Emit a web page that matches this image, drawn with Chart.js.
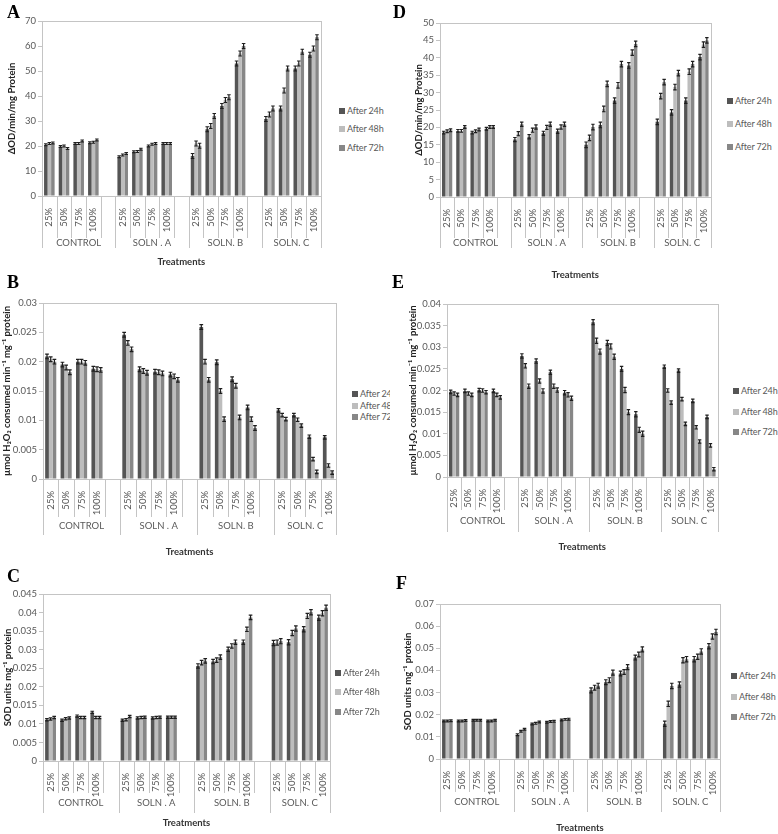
<!DOCTYPE html>
<html>
<head>
<meta charset="utf-8">
<script src="https://cdn.jsdelivr.net/npm/chart.js"></script>
<style>
	body { margin: 0; background: #fff; width: 778px; height: 834px; position: relative; overflow: hidden; font-family: Lato, sans-serif; }
	canvas { position: absolute; }
	.letter { position: absolute; font: bold 18px "Liberation Serif", serif; color: #000; line-height: 18px; }
	.legend { position: absolute; font-size: 9px; letter-spacing: -0.15px; color: #595959; white-space: nowrap; line-height: 12px; }
	.legend span { display: inline-block; width: 6px; height: 6px; margin-right: 2px; vertical-align: 0px; }
	.clip { position: absolute; left: 0; top: 0; width: 390px; height: 834px; overflow: hidden; }
</style>
</head>
<body>
<script>
// x categories: four concentrations per treatment, blank slot between treatments
var concLabels = ['25%', '50%', '75%', '100%', '', '25%', '50%', '75%', '100%', '', '25%', '50%', '75%', '100%', '', '25%', '50%', '75%', '100%'];
var groupLabels = ['CONTROL', 'SOLN . A', 'SOLN. B', 'SOLN. C'];
var seriesNames = ['After 24h', 'After 48h', 'After 72h'];
var seriesColors = ['#555555', '#bdbdbd', '#878787'];

// A - ΔOD/min/mg protein
var A_24 = [20.5, 19.8, 21, 21.3, null, 15.7, 17.7, 20, 21, null, 16, 26.7, 36, 53, null, 30.8, 35, 51, 56.5];
var A_48 = [21, 20, 21, 21.5, null, 16.4, 17.8, 20.7, 21, null, 21, 28, 38.4, 57, null, 32.6, 42.2, 53, 59];
var A_72 = [21.2, 19, 22, 22.4, null, 17, 18.7, 21, 21, null, 20.1, 32, 39.5, 60, null, 35, 51, 57.7, 63.5];
var A_err = [0.4, 0.4, 1.0, 1.0];

// D - ΔOD/min/mg protein
var D_24 = [18.5, 19, 18.5, 19.6, null, 16.5, 17.3, 18.3, 18.9, null, 15, 20.7, 27.7, 37.8, null, 21.6, 24.3, 27.7, 40.2];
var D_48 = [18.9, 19, 18.9, 20.1, null, 18.2, 19.2, 20, 20.1, null, 17, 25.3, 32.1, 41.5, null, 29, 31.6, 36, 43.8];
var D_72 = [19.2, 20.1, 19.4, 20.1, null, 20.9, 20.1, 20.9, 20.9, null, 20.1, 32.5, 38.2, 44, null, 33, 35.6, 38.2, 45];
var D_err = [0.4, 0.6, 0.8, 0.8];

// B - µmol H2O2 consumed
var B_24 = [0.0209, 0.0195, 0.02, 0.0188, null, 0.0246, 0.0187, 0.0183, 0.0178, null, 0.0259, 0.0199, 0.017, 0.0122, null, 0.0117, 0.0109, 0.0072, 0.0071];
var B_48 = [0.0204, 0.019, 0.02, 0.0187, null, 0.0232, 0.0184, 0.0182, 0.0175, null, 0.02, 0.015, 0.0159, 0.0102, null, 0.0109, 0.0101, 0.0034, 0.0023];
var B_72 = [0.02, 0.0182, 0.0198, 0.0186, null, 0.0221, 0.0181, 0.018, 0.0169, null, 0.0169, 0.0102, 0.0105, 0.0087, null, 0.0102, 0.0091, 0.0012, 0.0011];
var B_err = [0.0004, 0.0004, 0.0004, 0.0003];

// E - µmol H2O2 consumed
var E_24 = [0.0197, 0.0199, 0.0201, 0.0199, null, 0.028, 0.0268, 0.0242, 0.0195, null, 0.0358, 0.031, 0.025, 0.0145, null, 0.0255, 0.0246, 0.0176, 0.0139];
var E_48 = [0.0193, 0.0193, 0.02, 0.019, null, 0.0257, 0.0222, 0.021, 0.019, null, 0.0315, 0.0302, 0.0201, 0.0109, null, 0.02, 0.018, 0.0115, 0.0073];
var E_72 = [0.019, 0.019, 0.0196, 0.0184, null, 0.021, 0.0199, 0.0201, 0.0182, null, 0.029, 0.0278, 0.015, 0.01, null, 0.0172, 0.0123, 0.0082, 0.0018];
var E_err = [0.0004, 0.0005, 0.0006, 0.0004];

// C - SOD units
var C_24 = [0.0111, 0.011, 0.0121, 0.0131, null, 0.011, 0.0116, 0.0116, 0.0118, null, 0.0256, 0.0268, 0.0301, 0.032, null, 0.0318, 0.032, 0.0355, 0.0386];
var C_48 = [0.0113, 0.0114, 0.0117, 0.0117, null, 0.0111, 0.0117, 0.0117, 0.0118, null, 0.0265, 0.0272, 0.031, 0.0355, null, 0.0319, 0.0345, 0.0391, 0.0398];
var C_72 = [0.0117, 0.0116, 0.0117, 0.0117, null, 0.012, 0.0118, 0.0118, 0.0118, null, 0.027, 0.028, 0.032, 0.0387, null, 0.0323, 0.0357, 0.0401, 0.0413];
var C_err = [0.0003, 0.0003, 0.0006, 0.0007];

// F - SOD units
var F_24 = [0.0172, 0.0172, 0.0175, 0.0172, null, 0.011, 0.0158, 0.0166, 0.0176, null, 0.031, 0.0347, 0.0386, 0.0458, null, 0.0159, 0.0336, 0.0451, 0.0509];
var F_48 = [0.0172, 0.0172, 0.0175, 0.0172, null, 0.0125, 0.0161, 0.0169, 0.0179, null, 0.0322, 0.0356, 0.0393, 0.0472, null, 0.0249, 0.0446, 0.0462, 0.0553];
var F_72 = [0.0173, 0.0174, 0.0175, 0.0175, null, 0.0134, 0.0167, 0.017, 0.018, null, 0.0331, 0.039, 0.0415, 0.0495, null, 0.033, 0.0451, 0.0486, 0.0574];
var F_err = [0.0004, 0.0004, 0.0011, 0.0012];

var yTitleOD = 'ΔOD/min/mg Protein';
var yTitleH2O2 = 'µmol H₂O₂ consumed min⁻¹ mg⁻¹ protein';
var yTitleSOD = 'SOD units mg⁻¹ protein';

Chart.defaults.font.family = 'Lato, sans-serif';

// error bars, drawn on top of the bars
var errorBars = {
	id: 'errorBars',
	afterDatasetsDraw: function(chart, args, opts) {
		var ctx = chart.ctx, y = chart.scales.y;
		ctx.save();
		ctx.strokeStyle = '#1e1e1e';
		ctx.lineWidth = 1.2;
		chart.data.datasets.forEach(function(ds, i) {
			chart.getDatasetMeta(i).data.forEach(function(bar, j) {
				var v = ds.data[j];
				if (v == null) return;
				var e = opts.err[Math.floor(j / 5)];
				var y1 = y.getPixelForValue(Math.max(0, v - e)), y2 = y.getPixelForValue(v + e);
				var hw = bar.width / 2;
				ctx.beginPath();
				ctx.moveTo(bar.x, y1); ctx.lineTo(bar.x, y2);
				ctx.moveTo(bar.x - hw, y1); ctx.lineTo(bar.x + hw, y1);
				ctx.moveTo(bar.x - hw, y2); ctx.lineTo(bar.x + hw, y2);
				ctx.stroke();
			});
		});
		ctx.restore();
	}
};

// frame, category separators and the second row of treatment labels
var groupAxis = {
	id: 'groupAxis',
	beforeDatasetsDraw: function(chart, args, opts) {
		var ctx = chart.ctx, a = chart.chartArea, x = chart.scales.x;
		var n = chart.data.labels.length;
		var w = x.getPixelForValue(1) - x.getPixelForValue(0);
		ctx.save();
		ctx.strokeStyle = '#c4c4c4';
		ctx.lineWidth = 1;
		ctx.strokeRect(Math.round(a.left) + 0.5, Math.round(a.top) + 0.5, Math.round(a.width), Math.round(a.height));
		ctx.beginPath();
		for (var i = 0; i <= n; i++) {
			var px = Math.round(i < n ? x.getPixelForValue(i) - w / 2 : x.getPixelForValue(n - 1) + w / 2) + 0.5;
			var isGroup = (i % 5 === 0) || i === n;
			ctx.moveTo(px, a.bottom);
			ctx.lineTo(px, a.bottom + (isGroup ? opts.grpH : opts.pctH));
		}
		ctx.stroke();
		ctx.fillStyle = '#595959';
		ctx.font = '9.5px Lato, sans-serif';
		ctx.textAlign = 'center';
		ctx.textBaseline = 'middle';
		groupLabels.forEach(function(g, k) {
			var l = x.getPixelForValue(k * 5) - w / 2;
			var r = Math.min(x.getPixelForValue(k * 5 + 4) + w / 2, x.getPixelForValue(n - 1) + w / 2);
			ctx.fillText(g, (l + r) / 2, a.bottom + (opts.pctH + opts.grpH) / 2);
		});
		ctx.restore();
	}
};

function tickText(v) {
	return String(+v.toFixed(4));
}

function makePanel(p) {
	var top = p.plotT - 10;
	var bottom = Math.max(p.grpB, p.ttlY + 7) + 3;
	var cv = document.createElement('canvas');
	cv.width = p.plotR + 6 - p.cl;
	cv.height = bottom - top;
	cv.style.left = p.cl + 'px';
	cv.style.top = top + 'px';
	document.body.appendChild(cv);

	var sets = [p.d24, p.d48, p.d72].map(function(d, i) {
		return {
			label: seriesNames[i], data: d, backgroundColor: seriesColors[i],
			borderWidth: 0, categoryPercentage: 0.72, barPercentage: 1
		};
	});

	new Chart(cv, {
		type: 'bar',
		data: { labels: concLabels, datasets: sets },
		options: {
			responsive: false,
			animation: false,
			layout: { padding: { top: 10, right: 6, left: 0, bottom: 0 } },
			plugins: {
				legend: { display: false },
				tooltip: { enabled: false },
				errorBars: { err: p.err },
				groupAxis: { pctH: p.pctB - p.zero, grpH: p.grpB - p.zero }
			},
			scales: {
				x: {
					grid: { display: false },
					border: { display: false },
					ticks: { autoSkip: false, minRotation: 90, maxRotation: 90, padding: 4, color: '#595959', font: { size: 9.5 } },
					title: { display: true, text: 'Treatments', color: '#333', font: { size: 9.5, weight: 'bold' }, padding: { top: 0, bottom: bottom - p.ttlY - 5.7 } },
					afterFit: function(s) { s.height = bottom - p.zero; }
				},
				y: {
					min: 0, max: p.max,
					border: { display: false },
					grid: { drawOnChartArea: false, tickLength: 4, color: '#c4c4c4' },
					ticks: { stepSize: p.step, padding: 2, color: '#595959', font: { size: 9.5 }, callback: tickText },
					title: { display: true, text: p.yTitle, color: '#222', font: { size: 9.5, weight: 'bold' }, padding: { top: p.yTitleX - p.cl - 5.7, bottom: 0 } },
					afterFit: function(s) { s.width = p.plotL - p.cl; }
				}
			}
		},
		plugins: [errorBars, groupAxis]
	});

	// panel letter
	var lt = document.createElement('div');
	lt.className = 'letter';
	lt.textContent = p.letter;
	lt.style.left = p.lx + 'px';
	lt.style.top = p.ly + 'px';
	document.body.appendChild(lt);

	// legend
	var holder = p.clip ? document.querySelector('.clip') : document.body;
	seriesNames.forEach(function(name, i) {
		var row = document.createElement('div');
		row.className = 'legend';
		row.style.left = p.legX + 'px';
		row.style.top = (p.legY[i] - 6) + 'px';
		row.innerHTML = '<span style="background:' + seriesColors[i] + '"></span>' + name;
		holder.appendChild(row);
	});
}

var clip = document.createElement('div');
clip.className = 'clip';
document.body.appendChild(clip);

makePanel({ letter: 'A', lx: 7, ly: 3, cl: 0, plotL: 42, plotT: 21, plotR: 323, zero: 196, pctB: 238, grpB: 248, ttlY: 262, yTitleX: 12,
	max: 70, step: 10, yTitle: yTitleOD, d24: A_24, d48: A_48, d72: A_72, err: A_err, legX: 339, legY: [111, 129, 148] });
makePanel({ letter: 'D', lx: 393, ly: 3, cl: 400, plotL: 440, plotT: 23, plotR: 713, zero: 197, pctB: 238, grpB: 248, ttlY: 275, yTitleX: 419,
	max: 50, step: 5, yTitle: yTitleOD, d24: D_24, d48: D_48, d72: D_72, err: D_err, legX: 727, legY: [101, 124, 147] });
makePanel({ letter: 'B', lx: 7, ly: 273, cl: 0, plotL: 43, plotT: 303, plotR: 338, zero: 479, pctB: 517, grpB: 535, ttlY: 552, yTitleX: 7,
	max: 0.03, step: 0.005, yTitle: yTitleH2O2, d24: B_24, d48: B_48, d72: B_72, err: B_err, legX: 352, legY: [394, 406, 417], clip: true });
makePanel({ letter: 'E', lx: 392, ly: 273, cl: 400, plotL: 447, plotT: 304, plotR: 720, zero: 477, pctB: 510, grpB: 532, ttlY: 547, yTitleX: 413,
	max: 0.04, step: 0.005, yTitle: yTitleH2O2, d24: E_24, d48: E_48, d72: E_72, err: E_err, legX: 733, legY: [391, 412, 432] });
makePanel({ letter: 'C', lx: 7, ly: 567, cl: 0, plotL: 43, plotT: 594, plotR: 332, zero: 761, pctB: 793, grpB: 813, ttlY: 823, yTitleX: 8,
	max: 0.045, step: 0.005, yTitle: yTitleSOD, d24: C_24, d48: C_48, d72: C_72, err: C_err, legX: 335, legY: [673, 692, 712] });
makePanel({ letter: 'F', lx: 396, ly: 574, cl: 400, plotL: 440, plotT: 604, plotR: 722, zero: 759, pctB: 792, grpB: 812, ttlY: 828, yTitleX: 408,
	max: 0.07, step: 0.01, yTitle: yTitleSOD, d24: F_24, d48: F_48, d72: F_72, err: F_err, legX: 731, legY: [676, 697, 717] });
</script>
</body>
</html>
